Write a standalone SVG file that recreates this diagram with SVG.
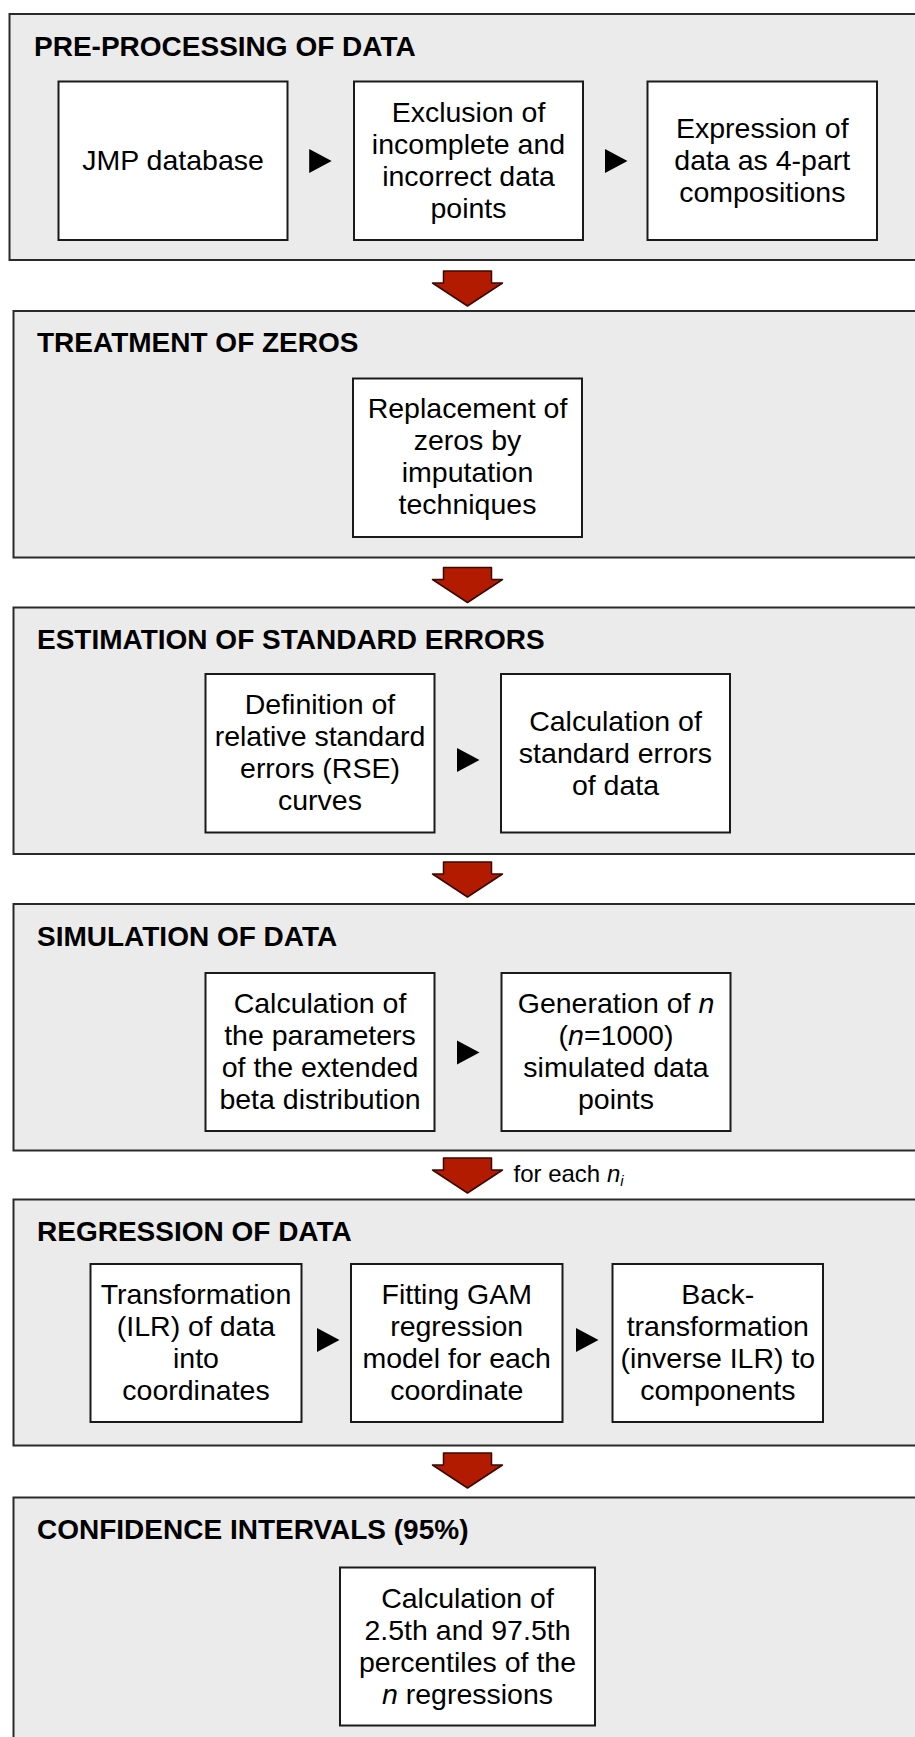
<svg xmlns="http://www.w3.org/2000/svg" xmlns:xlink="http://www.w3.org/1999/xlink" width="915" height="1737" viewBox="0 0 915 1737">
  <style>
    .panel { fill: #ebebeb; stroke: #2a2a2a; stroke-width: 2; }
    .box { fill: #ffffff; stroke: #1a1a1a; stroke-width: 2; }
    .title { font-family: "Liberation Sans", Arial, Helvetica, sans-serif; font-weight: bold; font-size: 28px; fill: #000; }
    .txt { font-family: "Liberation Sans", Arial, Helvetica, sans-serif; font-size: 28.5px; fill: #000; text-anchor: middle; }
    .note { font-family: "Liberation Sans", Arial, Helvetica, sans-serif; font-size: 24px; fill: #000; }
    .it { font-style: italic; }
    .step { fill: #000; }
    .flow { fill: #b31b00; stroke: #3a0800; stroke-width: 1.5; stroke-linejoin: round; }
  </style>
  <defs>
    <!-- small black pointer between boxes; origin at its left-middle -->
    <path id="pointer" class="step" d="M0,-12 L22.5,0 L0,12 Z"/>
    <!-- red block arrow between stages; origin at its top-centre -->
    <path id="stageArrow" class="flow" d="M-24,0 L24,0 L24,12 L35,12 L0,35 L-35,12 L-24,12 Z"/>
  </defs>

  <rect width="915" height="1737" fill="#ffffff"/>

  <!-- Stage 1 -->
  <g id="stage-preprocessing">
    <rect class="panel" x="9.5" y="14" width="930" height="246"/>
    <text class="title" x="34" y="55.5">PRE-PROCESSING OF DATA</text>
    <g id="node-jmp">
      <rect class="box" x="58.5" y="81.5" width="229" height="158.5"/>
      <text class="txt" x="173" y="170">JMP database</text>
    </g>
    <g id="node-exclusion">
      <rect class="box" x="354" y="81.5" width="229" height="158.5"/>
      <text class="txt" x="468.5" y="121.5">Exclusion of</text>
      <text class="txt" x="468.5" y="153.5">incomplete and</text>
      <text class="txt" x="468.5" y="185.5">incorrect data</text>
      <text class="txt" x="468.5" y="217.5">points</text>
    </g>
    <g id="node-expression">
      <rect class="box" x="647.5" y="81.5" width="229.5" height="158.5"/>
      <text class="txt" x="762.3" y="137.5">Expression of</text>
      <text class="txt" x="762.3" y="169.5">data as 4-part</text>
      <text class="txt" x="762.3" y="201.5">compositions</text>
    </g>
  </g>

  <!-- Stage 2 -->
  <g id="stage-zeros">
    <rect class="panel" x="13.5" y="311" width="930" height="246.5"/>
    <text class="title" x="37" y="352">TREATMENT OF ZEROS</text>
    <g id="node-replacement">
      <rect class="box" x="353" y="378.5" width="229" height="158.5"/>
      <text class="txt" x="467.5" y="417.5">Replacement of</text>
      <text class="txt" x="467.5" y="449.5">zeros by</text>
      <text class="txt" x="467.5" y="481.5">imputation</text>
      <text class="txt" x="467.5" y="513.5">techniques</text>
    </g>
  </g>

  <!-- Stage 3 -->
  <g id="stage-errors">
    <rect class="panel" x="13.5" y="607.5" width="930" height="246.5"/>
    <text class="title" x="37" y="649">ESTIMATION OF STANDARD ERRORS</text>
    <g id="node-rse">
      <rect class="box" x="205.5" y="674" width="229" height="158.5"/>
      <text class="txt" x="320" y="713.5">Definition of</text>
      <text class="txt" x="320" y="745.5">relative standard</text>
      <text class="txt" x="320" y="777.5">errors (RSE)</text>
      <text class="txt" x="320" y="809.5">curves</text>
    </g>
    <g id="node-se">
      <rect class="box" x="501" y="674" width="229" height="158.5"/>
      <text class="txt" x="615.5" y="731">Calculation of</text>
      <text class="txt" x="615.5" y="763">standard errors</text>
      <text class="txt" x="615.5" y="795">of data</text>
    </g>
  </g>

  <!-- Stage 4 -->
  <g id="stage-simulation">
    <rect class="panel" x="13.5" y="904" width="930" height="246.5"/>
    <text class="title" x="37" y="945.5">SIMULATION OF DATA</text>
    <g id="node-beta">
      <rect class="box" x="205.5" y="973" width="229" height="158"/>
      <text class="txt" x="320" y="1013">Calculation of</text>
      <text class="txt" x="320" y="1045">the parameters</text>
      <text class="txt" x="320" y="1077">of the extended</text>
      <text class="txt" x="320" y="1109">beta distribution</text>
    </g>
    <g id="node-generation">
      <rect class="box" x="501.5" y="973" width="229" height="158"/>
      <text class="txt" x="616" y="1013">Generation of <tspan class="it">n</tspan></text>
      <text class="txt" x="616" y="1045">(<tspan class="it">n</tspan>=1000)</text>
      <text class="txt" x="616" y="1077">simulated data</text>
      <text class="txt" x="616" y="1109">points</text>
    </g>
  </g>

  <!-- Stage 5 -->
  <g id="stage-regression">
    <rect class="panel" x="13.5" y="1199.5" width="930" height="246"/>
    <text class="title" x="37" y="1241">REGRESSION OF DATA</text>
    <g id="node-ilr">
      <rect class="box" x="90.5" y="1264" width="211" height="158"/>
      <text class="txt" x="196" y="1304">Transformation</text>
      <text class="txt" x="196" y="1336">(ILR) of data</text>
      <text class="txt" x="196" y="1368">into</text>
      <text class="txt" x="196" y="1400">coordinates</text>
    </g>
    <g id="node-gam">
      <rect class="box" x="351" y="1264" width="211.5" height="158"/>
      <text class="txt" x="456.7" y="1304">Fitting GAM</text>
      <text class="txt" x="456.7" y="1336">regression</text>
      <text class="txt" x="456.7" y="1368">model for each</text>
      <text class="txt" x="456.7" y="1400">coordinate</text>
    </g>
    <g id="node-back">
      <rect class="box" x="612.5" y="1264" width="210.5" height="158"/>
      <text class="txt" x="717.8" y="1304">Back-</text>
      <text class="txt" x="717.8" y="1336">transformation</text>
      <text class="txt" x="717.8" y="1368">(inverse ILR) to</text>
      <text class="txt" x="717.8" y="1400">components</text>
    </g>
  </g>

  <!-- Stage 6 -->
  <g id="stage-confidence">
    <rect class="panel" x="13.5" y="1497.5" width="930" height="260"/>
    <text class="title" x="37" y="1539">CONFIDENCE INTERVALS (95%)</text>
    <g id="node-percentiles">
      <rect class="box" x="340" y="1567.5" width="255" height="158"/>
      <text class="txt" x="467.5" y="1608">Calculation of</text>
      <text class="txt" x="467.5" y="1640">2.5th and 97.5th</text>
      <text class="txt" x="467.5" y="1672">percentiles of the</text>
      <text class="txt" x="467.5" y="1704"><tspan class="it">n</tspan> regressions</text>
    </g>
  </g>

  <!-- Connectors -->
  <g id="connectors">
    <use xlink:href="#pointer" href="#pointer" x="309.2" y="161"/>
    <use xlink:href="#pointer" href="#pointer" x="605" y="161"/>
    <use xlink:href="#pointer" href="#pointer" x="457" y="760"/>
    <use xlink:href="#pointer" href="#pointer" x="457" y="1052.5"/>
    <use xlink:href="#pointer" href="#pointer" x="317" y="1340"/>
    <use xlink:href="#pointer" href="#pointer" x="576" y="1340"/>

    <use xlink:href="#stageArrow" href="#stageArrow" x="467.5" y="271"/>
    <use xlink:href="#stageArrow" href="#stageArrow" x="467.5" y="567.5"/>
    <use xlink:href="#stageArrow" href="#stageArrow" x="467.5" y="862"/>
    <use xlink:href="#stageArrow" href="#stageArrow" x="467.5" y="1158"/>
    <use xlink:href="#stageArrow" href="#stageArrow" x="467.5" y="1453"/>

    <text class="note" x="513.5" y="1181.5">for each <tspan class="it">n</tspan><tspan class="it" font-size="15" dy="4">i</tspan></text>
  </g>
</svg>
